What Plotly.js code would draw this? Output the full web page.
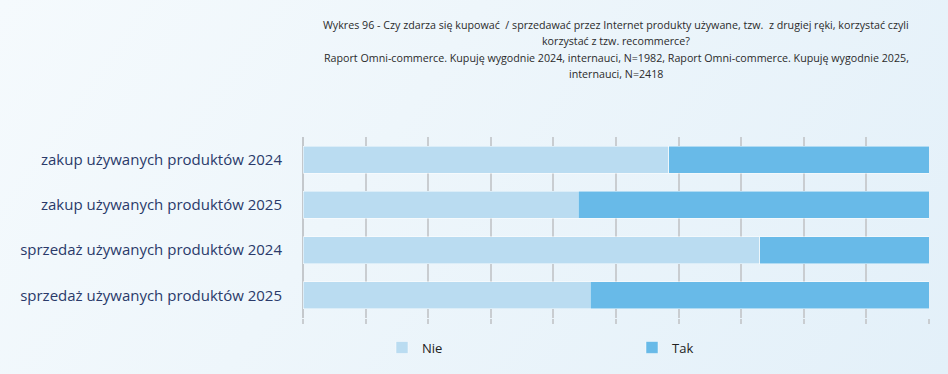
<!DOCTYPE html>
<html>
<head>
<meta charset="utf-8">
<script src="https://cdn.plot.ly/plotly-3.0.1.min.js"></script>
<style>
  html, body { margin: 0; padding: 0; }
  body { width: 948px; height: 374px; overflow: hidden;
         background: linear-gradient(125deg, #f5fafd 0%, #eef6fb 40%, #e3f0f9 100%); }
  #chart { width: 948px; height: 374px; }
</style>
</head>
<body>
<div id="chart"></div>
<script>
const categories = [
  "zakup używanych produktów 2024",
  "zakup używanych produktów 2025",
  "sprzedaż używanych produktów 2024",
  "sprzedaż używanych produktów 2025"
];
const nieValues = [58.4, 44.0, 73.0, 45.9];
const takValues = [41.6, 56.0, 27.0, 54.1];
const seriesNames = ["Nie", "Tak"];
const titleLines = [
  "Wykres 96 - Czy zdarza się kupować  / sprzedawać przez Internet produkty używane, tzw.  z drugiej ręki, korzystać czyli",
  "korzystać z tzw. recommerce?",
  "Raport Omni-commerce. Kupuję wygodnie 2024, internauci, N=1982, Raport Omni-commerce. Kupuję wygodnie 2025,",
  "internauci, N=2418"
];

const W = 948, H = 374;
const titleY = [25, 41.5, 58, 74];

const traces = [
  {
    type: "bar", orientation: "h", name: seriesNames[0],
    y: categories, x: nieValues,
    marker: { color: "#badcf1", line: { color: "rgba(255,255,255,0.6)", width: 0.8 } },
    hoverinfo: "x+y+name"
  },
  {
    type: "bar", orientation: "h", name: seriesNames[1],
    y: categories, x: takValues,
    marker: { color: "#68bae8", line: { color: "rgba(255,255,255,0.6)", width: 0.8 } },
    hoverinfo: "x+y+name"
  }
];

const annotations = titleLines.map((t, i) => ({
  text: t, showarrow: false,
  xref: "paper", x: 0.5, xanchor: "center",
  yref: "paper", y: 1 + (137 - titleY[i]) / (H - 137 - 56), yanchor: "middle",
  font: { family: "Open Sans, sans-serif", size: 10.7, color: "#2b2b2b" }
}));

const layout = {
  width: W, height: H,
  paper_bgcolor: "rgba(0,0,0,0)",
  plot_bgcolor: "rgba(0,0,0,0)",
  barmode: "stack",
  bargap: 0.4,
  margin: { l: 303, r: 19, t: 137, b: 56, pad: 0 },
  font: { family: "Open Sans, sans-serif", color: "#333" },
  annotations: annotations,
  xaxis: {
    range: [0, 100], dtick: 10, tick0: 0,
    showticklabels: false,
    showgrid: true, gridcolor: "#c9cdd1", gridwidth: 1.5,
    zeroline: true, zerolinecolor: "#c4c8cc", zerolinewidth: 2,
    ticks: "outside", ticklen: 5, tickcolor: "#c9cdd1", tickwidth: 1.5,
    showline: false, fixedrange: true
  },
  yaxis: {
    autorange: "reversed",
    tickfont: { family: "Open Sans, sans-serif", size: 15, color: "#2a3a6a" },
    ticks: "", ticklabelstandoff: 20,
    showgrid: false, showline: false, zeroline: false, fixedrange: true
  },
  legend: {
    orientation: "h",
    xref: "container", yref: "container",
    x: 382 / W, xanchor: "left",
    y: 1 - 347.5 / H, yanchor: "middle",
    entrywidth: 205, entrywidthmode: "pixels",
    font: { family: "Open Sans, sans-serif", size: 13, color: "#222" },
    bgcolor: "rgba(0,0,0,0)",
    traceorder: "normal"
  },
  showlegend: true
};

Plotly.newPlot("chart", traces, layout, { displayModeBar: false });
</script>
</body>
</html>
